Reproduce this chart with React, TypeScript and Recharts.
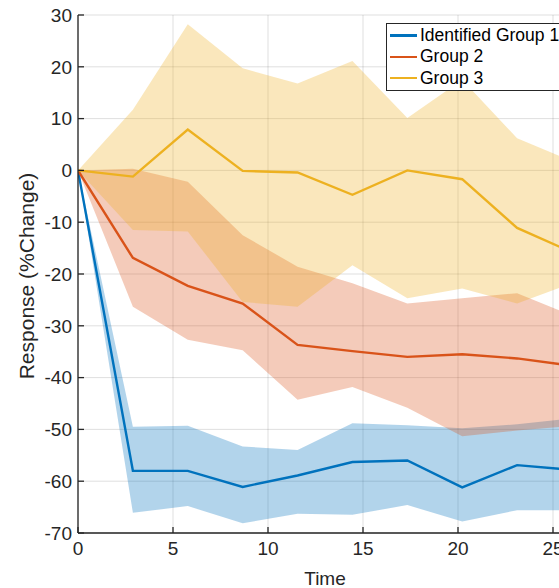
import {
  ComposedChart,
  Area,
  Line,
  XAxis,
  YAxis,
  CartesianGrid,
  Label,
} from 'recharts';

// sample times (26/9 spacing, xlim is tight at 26)
const time = [0, 2.889, 5.778, 8.667, 11.556, 14.444, 17.333, 20.222, 23.111, 26];

const group1Mean = [0, -58.0, -58.0, -61.1, -58.9, -56.3, -56.0, -61.2, -56.9, -57.8];
const group1Upper = [0, -49.5, -49.3, -53.3, -54.0, -48.8, -49.2, -49.8, -49.0, -47.9];
const group1Lower = [0, -66.1, -64.8, -68.1, -66.3, -66.5, -64.6, -67.8, -65.6, -65.6];

const group2Mean = [0, -16.9, -22.3, -25.7, -33.7, -34.9, -36.0, -35.5, -36.3, -37.7];
const group2Upper = [0, 0.3, -2.2, -12.5, -18.6, -21.8, -25.7, -24.7, -23.7, -28.0];
const group2Lower = [0, -26.3, -32.7, -34.7, -44.3, -41.8, -45.8, -51.3, -50.2, -49.3];

const group3Mean = [0, -1.2, 7.9, -0.1, -0.4, -4.7, 0.0, -1.7, -11.1, -15.8];
const group3Upper = [0, 11.7, 28.2, 19.7, 16.8, 21.1, 10.1, 17.5, 6.2, 1.8];
const group3Lower = [0, -11.5, -11.8, -25.4, -26.3, -18.3, -24.7, -22.8, -25.7, -21.8];

const xTicks = [0, 5, 10, 15, 20, 25];
const yTicks = [-70, -60, -50, -40, -30, -20, -10, 0, 10, 20, 30];

const seriesNames = ['Identified Group 1', 'Group 2', 'Group 3'];
const seriesColors = ['#0072BD', '#D95319', '#EDB120'];

const data = time.map((t, i) => ({
  t,
  g1: group1Mean[i],
  g1Band: [group1Lower[i], group1Upper[i]],
  g2: group2Mean[i],
  g2Band: [group2Lower[i], group2Upper[i]],
  g3: group3Mean[i],
  g3Band: [group3Lower[i], group3Upper[i]],
}));

const AXIS = '#262626';
const FONT = '"Liberation Sans", Arial, Helvetica, sans-serif';

const YLabel = () => (
  <text
    x={34}
    y={276}
    transform="rotate(-90 34 276)"
    textAnchor="middle"
    fontSize={21}
    fill={AXIS}
    fontFamily={FONT}
  >
    Response (%Change)
  </text>
);

const App = () => {
  return (
    <div
      style={{
        position: 'absolute',
        left: 0,
        top: 0,
        width: 559,
        height: 588,
        overflow: 'hidden',
        background: '#fff',
        fontFamily: FONT,
      }}
    >
      <ComposedChart
        width={580}
        height={588}
        data={data}
        margin={{ top: 15, right: 8, left: 0, bottom: 0 }}
      >
        <CartesianGrid stroke={AXIS} strokeOpacity={0.15} />
        <XAxis
          dataKey="t"
          type="number"
          domain={[0, 26]}
          ticks={xTicks}
          interval={0}
          allowDataOverflow
          height={55}
          tickSize={-6}
          tickMargin={15}
          stroke={AXIS}
          strokeWidth={1.3}
          tick={{ fontSize: 19, fill: AXIS }}
        >
          <Label value="Time" position="insideBottom" offset={3} fontSize={19} fill={AXIS} />
        </XAxis>
        <XAxis
          xAxisId="top"
          orientation="top"
          type="number"
          domain={[0, 26]}
          ticks={xTicks}
          interval={0}
          height={0}
          tickSize={-6}
          tick={false}
          stroke={AXIS}
          strokeWidth={1.3}
        />
        <YAxis
          type="number"
          domain={[-70, 30]}
          ticks={yTicks}
          interval={0}
          width={78}
          tickSize={-6}
          tickMargin={12}
          stroke={AXIS}
          strokeWidth={1.3}
          tick={{ fontSize: 19, fill: AXIS }}
        >
          <Label content={<YLabel />} />
        </YAxis>

        <Area type="linear" dataKey="g1Band" stroke="none" fill={seriesColors[0]} fillOpacity={0.3} isAnimationActive={false} />
        <Area type="linear" dataKey="g2Band" stroke="none" fill={seriesColors[1]} fillOpacity={0.3} isAnimationActive={false} />
        <Area type="linear" dataKey="g3Band" stroke="none" fill={seriesColors[2]} fillOpacity={0.3} isAnimationActive={false} />

        <Line type="linear" dataKey="g1" stroke={seriesColors[0]} strokeWidth={2.4} dot={false} activeDot={false} isAnimationActive={false} />
        <Line type="linear" dataKey="g2" stroke={seriesColors[1]} strokeWidth={2.4} dot={false} activeDot={false} isAnimationActive={false} />
        <Line type="linear" dataKey="g3" stroke={seriesColors[2]} strokeWidth={2.4} dot={false} activeDot={false} isAnimationActive={false} />
      </ComposedChart>

      {/* legend box, MATLAB style, runs off the right edge */}
      <div
        style={{
          position: 'absolute',
          left: 386,
          top: 23,
          border: `1.3px solid ${AXIS}`,
          background: '#fff',
          padding: '1px 30px 1px 3px',
          whiteSpace: 'nowrap',
        }}
      >
        {seriesNames.map((name, i) => (
          <div key={name} style={{ display: 'flex', alignItems: 'center', height: 21.3 }}>
            <span style={{ display: 'inline-block', width: 27, height: 2.4, background: seriesColors[i], marginRight: 3 }} />
            <span style={{ fontSize: 17.5, color: '#000' }}>{name}</span>
          </div>
        ))}
      </div>
    </div>
  );
};

export default App;
